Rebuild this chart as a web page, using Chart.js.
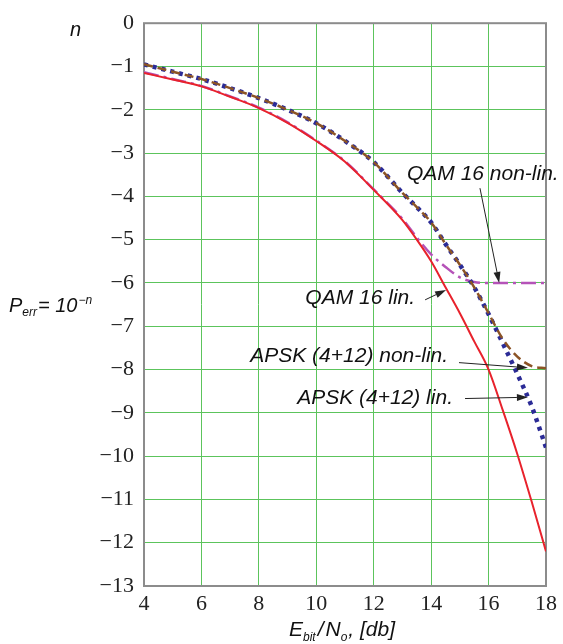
<!DOCTYPE html>
<html>
<head>
<meta charset="utf-8">
<script src="https://cdn.jsdelivr.net/npm/chart.js@4.4.0/dist/chart.umd.min.js"></script>
<style>
  body { margin: 0; background: #fff; }
  canvas { display: block; }
</style>
</head>
<body>
<canvas id="berChart" width="563" height="644"></canvas>
<script>
// Eb/No values (dB)
const ebNo = [4, 5, 6, 7, 8, 9, 10, 11, 12, 13, 13.5, 14, 14.5, 15, 15.5, 16, 16.5, 17, 17.5, 18];

// exponent n of Perr = 10^-n
const qam16Lin    = [-1.15, -1.30, -1.46, -1.70, -1.96, -2.30, -2.72, -3.20, -3.85, -4.55, -5.00, -5.50, -6.10, -6.70, -7.35, -8.00, -8.95, -9.95, -11.05, -12.20];
const qam16NonLin = [-1.13, -1.29, -1.45, -1.69, -1.95, -2.29, -2.71, -3.19, -3.84, -4.52, -4.95, -5.34, -5.63, -5.87, -5.98, -6.00, -6.00, -6.00, -6.00, -6.00];
const apskLin     = [-0.95, -1.12, -1.29, -1.50, -1.73, -2.00, -2.31, -2.72, -3.21, -3.92, -4.25, -4.60, -5.10, -5.58, -6.10, -6.72, -7.40, -8.10, -8.85, -9.80];
const apskNonLin  = [-0.95, -1.12, -1.29, -1.50, -1.73, -2.00, -2.31, -2.72, -3.21, -3.92, -4.25, -4.60, -5.10, -5.58, -6.10, -6.70, -7.30, -7.70, -7.92, -7.97];

const xTicks = [4, 6, 8, 10, 12, 14, 16, 18];
const yTicks = [0, -1, -2, -3, -4, -5, -6, -7, -8, -9, -10, -11, -12, -13];

function toPoints(values) {
    return values.map((v, i) => ({ x: ebNo[i], y: v }));
}

// labels with arrows, in data coordinates
const callouts = [
    { text: 'QAM 16 non-lin.', tx: 15.80, ty: -3.63, align: 'center', from: [15.70, -3.81], to: [16.37, -6.00] },
    { text: 'QAM 16 lin.', tx: 13.44, ty: -6.49, align: 'right', from: [13.79, -6.39], to: [14.52, -6.16] },
    { text: 'APSK (4+12) non-lin.', tx: 14.59, ty: -7.82, align: 'right', from: [14.97, -7.84], to: [17.37, -7.96] },
    { text: 'APSK (4+12) lin.', tx: 14.76, ty: -8.79, align: 'right', from: [15.18, -8.67], to: [17.37, -8.64] }
];

const sansItalic = (size) => 'italic ' + size + 'px "Liberation Sans", Arial, sans-serif';

function drawArrow(ctx, x1, y1, x2, y2) {
    const ang = Math.atan2(y2 - y1, x2 - x1);
    const len = 11, half = 3.5;
    const bx = x2 - len * Math.cos(ang), by = y2 - len * Math.sin(ang);
    ctx.beginPath();
    ctx.moveTo(x1, y1);
    ctx.lineTo(bx, by);
    ctx.strokeStyle = '#222';
    ctx.lineWidth = 1;
    ctx.stroke();
    ctx.beginPath();
    ctx.moveTo(x2, y2);
    ctx.lineTo(bx - half * Math.sin(ang), by + half * Math.cos(ang));
    ctx.lineTo(bx + half * Math.sin(ang), by - half * Math.cos(ang));
    ctx.closePath();
    ctx.fillStyle = '#222';
    ctx.fill();
}

// draw a run of text pieces, each with its own size and baseline shift
function drawRich(ctx, x, y, parts) {
    ctx.textAlign = 'left';
    ctx.textBaseline = 'alphabetic';
    let cx = x;
    parts.forEach(p => {
        ctx.font = sansItalic(p.size);
        ctx.fillText(p.t, cx, y + (p.dy || 0));
        cx += ctx.measureText(p.t).width + (p.gap || 0);
    });
}

const framePlugin = {
    id: 'frame',
    beforeDatasetsDraw(chart) {
        const { ctx, chartArea: a } = chart;
        ctx.save();
        ctx.strokeStyle = '#8c8c8c';
        ctx.lineWidth = 2;
        ctx.strokeRect(a.left, a.top, a.right - a.left, a.bottom - a.top);
        ctx.restore();
    }
};

const labelsPlugin = {
    id: 'labels',
    afterDraw(chart) {
        const ctx = chart.ctx;
        const xs = chart.scales.x, ys = chart.scales.y;
        ctx.save();
        ctx.fillStyle = '#111';

        callouts.forEach(c => {
            ctx.font = sansItalic(21);
            ctx.textAlign = c.align;
            ctx.textBaseline = 'alphabetic';
            ctx.fillStyle = '#111';
            ctx.fillText(c.text, xs.getPixelForValue(c.tx), ys.getPixelForValue(c.ty));
            drawArrow(ctx,
                xs.getPixelForValue(c.from[0]), ys.getPixelForValue(c.from[1]),
                xs.getPixelForValue(c.to[0]), ys.getPixelForValue(c.to[1]));
        });

        ctx.fillStyle = '#111';
        // y axis titles
        drawRich(ctx, 70, 36, [{ t: 'n', size: 20 }]);
        drawRich(ctx, 9, 312, [
            { t: 'P', size: 20 },
            { t: 'err', size: 12, dy: 4, gap: 1 },
            { t: '= 10', size: 20, gap: 1 },
            { t: '\u2212n', size: 12, dy: -8 }
        ]);
        // x axis title
        drawRich(ctx, 289, 636, [
            { t: 'E', size: 21 },
            { t: 'bit', size: 12, dy: 5, gap: 2 },
            { t: '/', size: 21, gap: 2 },
            { t: 'N', size: 21 },
            { t: 'o', size: 12, dy: 5, gap: 1 },
            { t: ', [db]', size: 21 }
        ]);
        ctx.restore();
    }
};

const ctx = document.getElementById('berChart').getContext('2d');
new Chart(ctx, {
    type: 'line',
    data: {
        datasets: [
            {
                label: 'QAM 16 lin.',
                data: toPoints(qam16Lin),
                borderColor: '#e8222c',
                borderWidth: 2,
                order: 3
            },
            {
                label: 'QAM 16 non-lin.',
                data: toPoints(qam16NonLin),
                borderColor: '#b553b8',
                borderWidth: 2.5,
                borderDash: [15, 5, 3, 5],
                order: 4
            },
            {
                label: 'APSK (4+12) lin.',
                data: toPoints(apskLin),
                borderColor: '#2b2b96',
                borderWidth: 4.5,
                borderDash: [4, 5],
                borderCapStyle: 'butt',
                order: 2
            },
            {
                label: 'APSK (4+12) non-lin.',
                data: toPoints(apskNonLin),
                borderColor: '#8c5426',
                borderWidth: 2.5,
                borderDash: [9, 5],
                order: 1
            }
        ]
    },
    options: {
        responsive: false,
        animation: false,
        cubicInterpolationMode: 'monotone',
        layout: { padding: { top: 16, right: 17, left: 0, bottom: 0 } },
        elements: { point: { radius: 0 }, line: { fill: false } },
        plugins: {
            legend: { display: false },
            tooltip: { enabled: false }
        },
        scales: {
            x: {
                type: 'linear',
                min: 4,
                max: 18,
                afterFit: (s) => { s.height = 58; },
                afterBuildTicks: (s) => { s.ticks = xTicks.map(v => ({ value: v })); },
                grid: { color: '#5cc45c', lineWidth: 1, drawTicks: false },
                border: { display: false },
                ticks: {
                    padding: 5,
                    color: '#222',
                    font: { family: '"Liberation Serif", "Times New Roman", serif', size: 22 },
                    maxRotation: 0
                }
            },
            y: {
                type: 'linear',
                min: -13,
                max: 0,
                afterFit: (s) => { s.width = 144; },
                afterBuildTicks: (s) => { s.ticks = yTicks.map(v => ({ value: v })); },
                grid: { color: '#5cc45c', lineWidth: 1, drawTicks: false },
                border: { display: false },
                ticks: {
                    padding: 10,
                    color: '#222',
                    font: { family: '"Liberation Serif", "Times New Roman", serif', size: 22 },
                    callback: (v) => v < 0 ? '\u2212' + Math.abs(v) : String(v)
                }
            }
        }
    },
    plugins: [framePlugin, labelsPlugin]
});
</script>
</body>
</html>
